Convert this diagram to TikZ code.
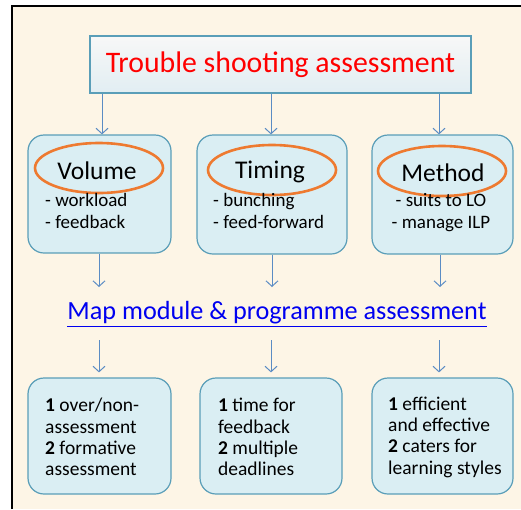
\documentclass[tikz,border=0pt]{standalone}
\usepackage{fontspec}
\setmainfont{Carlito}
\usetikzlibrary{arrows.meta,shapes.geometric}
\definecolor{bgcream}{HTML}{FDF5E6}
\definecolor{boxfill}{HTML}{DAEEF3}
\definecolor{boxline}{HTML}{5A9EB8}
\definecolor{arrcol}{HTML}{5B8CC4}
\definecolor{ovalcol}{HTML}{EE7A30}
\definecolor{linkblue}{HTML}{0000F0}
\tikzset{
  catbox/.style={draw=boxline, line width=1.2pt, fill=boxfill, rounded corners=16pt, rectangle, inner sep=0pt},
  oval/.style={ellipse, draw=ovalcol, line width=2.6pt, minimum width=128pt, minimum height=50pt, inner sep=0pt},
  headtext/.style={inner sep=0pt, font=\fontsize{25.5}{29}\selectfont},
  bullets/.style={align=left, inner sep=0pt, font=\fontsize{19}{22}\selectfont},
  lowtext/.style={align=left, inner sep=0pt, font=\fontsize{19.5}{21.3}\selectfont},
  arr/.style={draw=arrcol, line width=1pt, -{Straight Barb[length=5.5pt,width=12pt]}}
}
\begin{document}
\begin{tikzpicture}[x=1pt,y=-1pt]
\useasboundingbox (0,0) rectangle (521,509);
\fill[bgcream] (12,6) rectangle (521,509);
\draw[black, line width=1.6pt] (12,509) -- (12,6) -- (521,6);

% top box
\node[rectangle, draw=boxline, line width=1.2pt, top color=white!60!gray!15, bottom color=boxline!18, minimum width=381pt, minimum height=57pt, inner sep=0pt, text=red, font=\fontsize{29.8}{33}\selectfont] (top) at (280.5,64.5) {Trouble shooting assessment};

% middle boxes
\node[catbox, minimum width=143pt, minimum height=118pt] (v1) at (99.5,194) {};
\node[catbox, minimum width=150pt, minimum height=119pt] (v2) at (272,194.5) {};
\node[catbox, minimum width=141pt, minimum height=119pt] (v3) at (442.5,194.5) {};

\node[oval] (o1) at (99,168) {};
\node[oval] (o2) at (272,170) {};
\node[oval] (o3) at (442,171) {};
\node[headtext] (h1) at (97,171) {Volume};
\node[headtext] (h2) at (270,172) {Timing};
\node[headtext] (h3) at (443,173) {Method};

\node[bullets, anchor=west] (b1) at (45,211) {- workload\\- feedback};
\node[bullets, anchor=west] (b2) at (213,211) {- bunching\\- feed-forward};
\node[bullets, align=center] (b3) at (441,213) {- suits to LO\\- manage ILP};

% map text
\node[inner sep=0pt, text=linkblue, font=\fontsize{26.2}{30}\selectfont] (map) at (277,314) {\color{linkblue}\underline{Map module \& programme assessment}};

% bottom boxes
\node[catbox, minimum width=143pt, minimum height=116pt] (w1) at (99.5,436) {};
\node[catbox, minimum width=142pt, minimum height=116pt] (w2) at (271,436) {};
\node[catbox, minimum width=141pt, minimum height=116pt] (w3) at (442.5,436) {};

\node[lowtext, anchor=west] (t1) at (45,437) {\textbf{1} over/non-\\assessment\\\textbf{2} formative\\assessment};
\node[lowtext, anchor=west] (t2) at (218,437) {\textbf{1} time for\\feedback\\\textbf{2} multiple\\deadlines};
\node[lowtext, anchor=west] (t3) at (388,437) {\textbf{1} efficient\\and effective\\\textbf{2} caters for\\learning styles};

% arrow coordinates
\coordinate (a1) at (102,0);
\coordinate (a2) at (271,0);
\coordinate (a3) at (439,0);
\coordinate (m1) at (99,287);
\coordinate (m2) at (272,287);
\coordinate (m3) at (440,287);
\coordinate (s1) at (99,340);
\coordinate (s2) at (271,340);
\coordinate (s3) at (439,340);

\draw[arr] (top.south -| a1) -- (v1.north -| a1);
\draw[arr] (top.south -| a2) -- (v2.north -| a2);
\draw[arr] (top.south -| a3) -- (v3.north -| a3);

\draw[arr] (v1.south -| m1) -- (m1);
\draw[arr] (v2.south -| m2) -- (m2);
\draw[arr] (v3.south -| m3) -- (m3);

\draw[arr, shorten >=5pt] (s1) -- (w1.north -| s1);
\draw[arr, shorten >=5pt] (s2) -- (w2.north -| s2);
\draw[arr, shorten >=5pt] (s3) -- (w3.north -| s3);
\end{tikzpicture}
\end{document}
